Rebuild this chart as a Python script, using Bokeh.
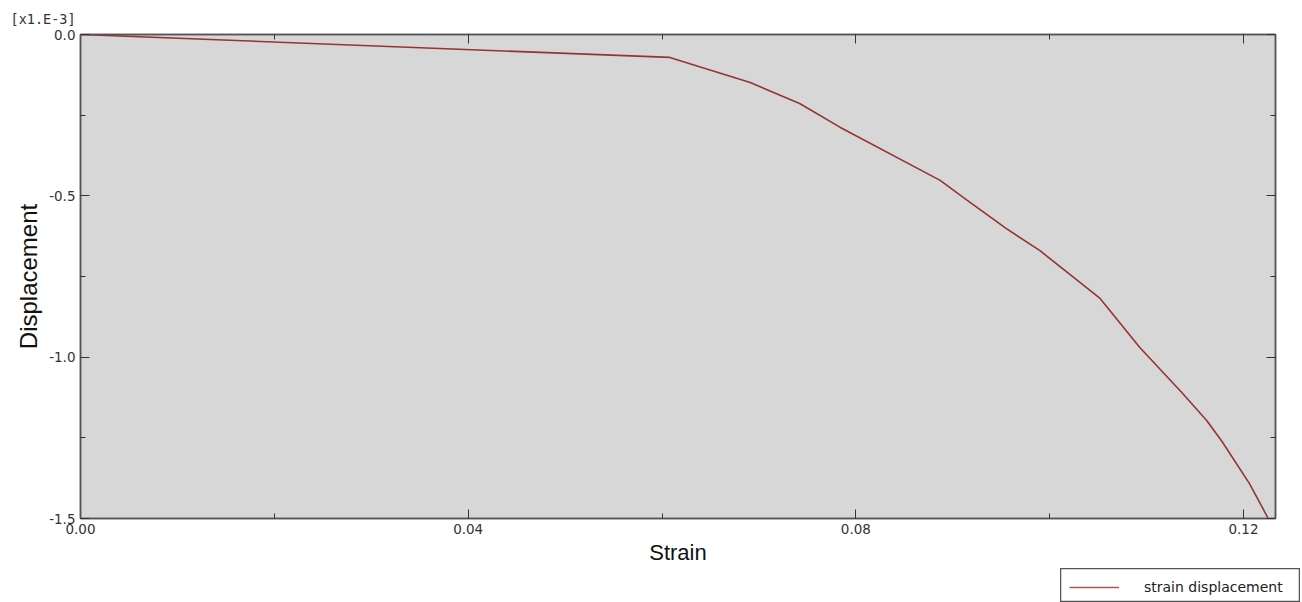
from bokeh.plotting import figure
from bokeh.layouts import column, row
from bokeh.models import (LinearAxis, Range1d, NumeralTickFormatter, Title, Spacer,
                          Legend, LegendItem, ColumnDataSource, SingleIntervalTicker)
from bokeh.embed import file_html
from bokeh.resources import INLINE

# Data (displacement shown in units of 1e-3)
strain = [0.0, 0.0608, 0.0691, 0.0742, 0.0784, 0.0887, 0.0915, 0.0955, 0.0990,
          0.1052, 0.1093, 0.1137, 0.1162, 0.1178, 0.1206, 0.1225]
displacement_e3 = [0.0, -0.071, -0.149, -0.214, -0.288, -0.452, -0.514, -0.601, -0.670,
                   -0.818, -0.970, -1.112, -1.196, -1.262, -1.391, -1.497]
series_name = "strain displacement"
x_title = "Strain"
y_title = "Displacement"
y_scale_note = "[x1.E-3]"

LINE_COLOR = "#963333"
src = ColumnDataSource(data=dict(x=strain, y=displacement_e3))

p = figure(width=1300, height=568, output_backend="svg", toolbar_location=None,
           x_range=Range1d(0, 0.1233), y_range=Range1d(-1.5, 0.0),
           x_axis_location=None, y_axis_location=None,
           min_border_left=80, min_border_right=25, min_border_top=34, min_border_bottom=50)
p.background_fill_color = "#d7d7d7"
p.border_fill_color = "white"
p.outline_line_color = "#555555"
p.outline_line_width = 1.5
p.xgrid.visible = False
p.ygrid.visible = False

tick_font = "DejaVu Sans"

def style_axis(ax, show_labels):
    ax.major_tick_in = 9
    ax.major_tick_out = 0
    ax.minor_tick_in = 5
    ax.minor_tick_out = 0
    ax.major_tick_line_color = "#333333"
    ax.minor_tick_line_color = "#333333"
    ax.axis_line_color = "#555555"
    ax.axis_line_width = 1.5
    ax.major_label_text_font = tick_font
    if show_labels:
        ax.major_label_text_font_size = "13.5px"
        ax.major_label_text_color = "#333333"
        ax.major_label_standoff = 5
    else:
        ax.major_label_text_font_size = "0px"
        ax.major_label_text_color = None
        ax.major_label_standoff = 0

def xticker():
    return SingleIntervalTicker(interval=0.04, num_minor_ticks=2)

def yticker():
    return SingleIntervalTicker(interval=0.5, num_minor_ticks=2)

xb = LinearAxis(ticker=xticker(), formatter=NumeralTickFormatter(format="0.00"))
style_axis(xb, True)
xb.axis_label = x_title
xb.axis_label_text_font = "Liberation Sans"
xb.axis_label_text_font_style = "normal"
xb.axis_label_text_font_size = "22px"
xb.axis_label_text_color = "#111111"
xb.axis_label_standoff = 3
p.add_layout(xb, "below")

yl = LinearAxis(ticker=yticker(), formatter=NumeralTickFormatter(format="0.0"))
style_axis(yl, True)
yl.axis_label = y_title
yl.axis_label_text_font = "Liberation Sans"
yl.axis_label_text_font_style = "normal"
yl.axis_label_text_font_size = "24px"
yl.axis_label_text_color = "#111111"
yl.axis_label_standoff = 4
p.add_layout(yl, "left")

xa = LinearAxis(ticker=xticker())
style_axis(xa, False)
p.add_layout(xa, "above")
ya = LinearAxis(ticker=yticker())
style_axis(ya, False)
p.add_layout(ya, "right")

r = p.line("x", "y", source=src, line_color=LINE_COLOR, line_width=1.6)

note = Title(text=y_scale_note, align="left", offset=-70, standoff=16,
             text_font="DejaVu Sans Mono", text_font_size="13.5px", text_font_style="normal",
             text_color="#333333")
p.add_layout(note, "above")

# Legend box shown below the plot, at bottom right
lg = figure(width=240, height=34, output_backend="svg", toolbar_location=None,
            x_range=Range1d(10, 11), y_range=Range1d(10, 11),
            x_axis_location=None, y_axis_location=None,
            min_border=0, min_border_left=0, min_border_right=0,
            min_border_top=0, min_border_bottom=0)
lg.xgrid.visible = False
lg.ygrid.visible = False
lg.outline_line_color = "#555555"
lg.outline_line_width = 1.5
lg.background_fill_color = "white"
# single-point line (off-range): only its legend sample is drawn
lr = lg.line(x=strain[:1], y=displacement_e3[:1], line_color="#b05555", line_width=1.6)
legend = Legend(items=[LegendItem(label=series_name, renderers=[lr])],
                location="top_left", orientation="vertical",
                glyph_width=50, glyph_height=20, label_height=20,
                label_standoff=25, padding=9, margin=9, spacing=0,
                label_text_font=tick_font, label_text_font_size="14px",
                label_text_color="#222222",
                border_line_color=None, background_fill_alpha=0.0)
lg.add_layout(legend)

layout = column(p, row(Spacer(width=1060, height=34), lg, spacing=0), spacing=0)

open("out.html", "w").write(file_html(layout, INLINE))
